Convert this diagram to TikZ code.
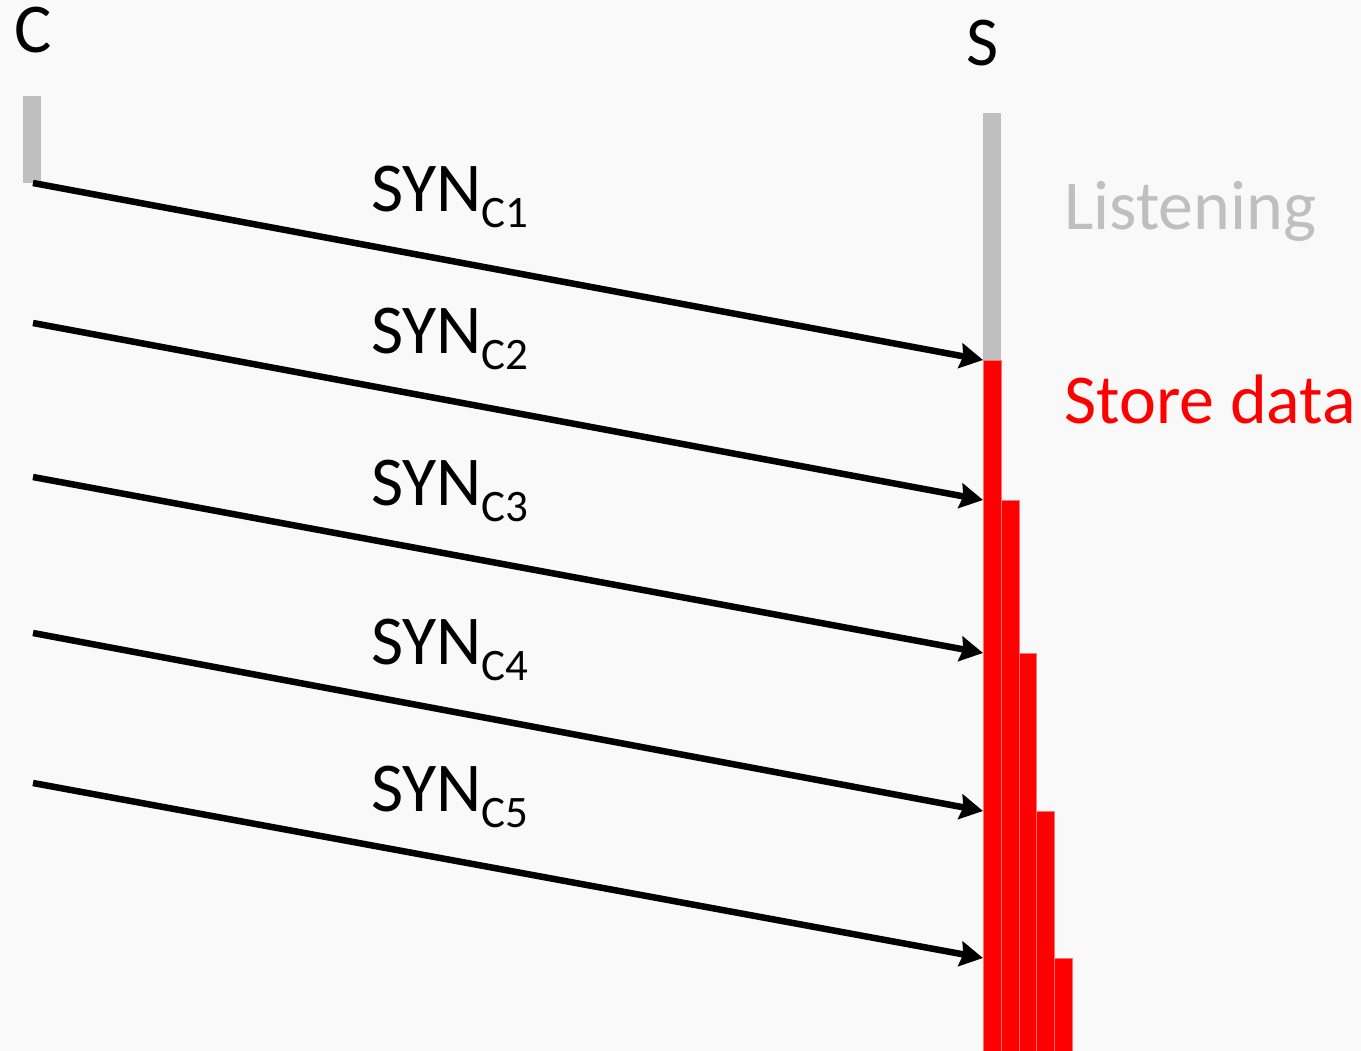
\documentclass[tikz,border=0pt]{standalone}
\usepackage{fontspec}
\setmainfont{Carlito}
\usetikzlibrary{arrows.meta}
\definecolor{bargray}{HTML}{BFBFBF}
\definecolor{txtgray}{HTML}{BFBFBF}
\definecolor{bg}{HTML}{F9F9F9}
\tikzset{
  big/.style={font=\fontsize{70}{80}\selectfont, inner sep=0pt, anchor=base west},
  msg/.style={line width=6.5pt, -{Stealth[length=23pt,width=25pt,inset=3pt]}},
  redbar/.style={fill=red, draw=red!55, line width=0.8pt},
}
\newcommand{\synlab}[1]{SYN\raisebox{-16pt}{\fontsize{45}{45}\selectfont C#1}}
\begin{document}
\begin{tikzpicture}[x=1pt,y=-1pt]
\fill[bg] (0,0) rectangle (1361,1051);
\useasboundingbox (0,0) rectangle (1361,1051);
% labels
\node[big] (lc) at (14,53) {C};
\node[big] (ls) at (966,66) {S};
% client bar
\fill[bargray] (23,96) rectangle (41,183);
% server bars
\fill[bargray] (983,113) rectangle (1001,360);
\draw[redbar] (1054,958) rectangle (1072,1053);
\draw[redbar] (1036,811) rectangle (1054,1053);
\draw[redbar] (1019,653) rectangle (1036,1053);
\draw[redbar] (1001,500) rectangle (1019,1053);
\draw[redbar] (983,360) rectangle (1001,1053);
% state labels
\node[big, text=txtgray] (listen) at (1064,230) {Listening};
\node[big, text=red] (store) at (1064,423) {Store data};
% endpoints
\coordinate (c1) at (33,183); \coordinate (s1) at (983,360);
\coordinate (c2) at (33,323); \coordinate (s2) at (983,500);
\coordinate (c3) at (33,477); \coordinate (s3) at (983,653);
\coordinate (c4) at (33,633); \coordinate (s4) at (983,811);
\coordinate (c5) at (33,783); \coordinate (s5) at (983,958);
\foreach \i in {1,...,5} \draw[msg] (c\i) -- (s\i);
% message labels
\node[big] (m1) at (371,212) {\synlab{1}};
\node[big] (m2) at (371,353) {\synlab{2}};
\node[big] (m3) at (371,505) {\synlab{3}};
\node[big] (m4) at (371,664) {\synlab{4}};
\node[big] (m5) at (371,811) {\synlab{5}};
\end{tikzpicture}
\end{document}
